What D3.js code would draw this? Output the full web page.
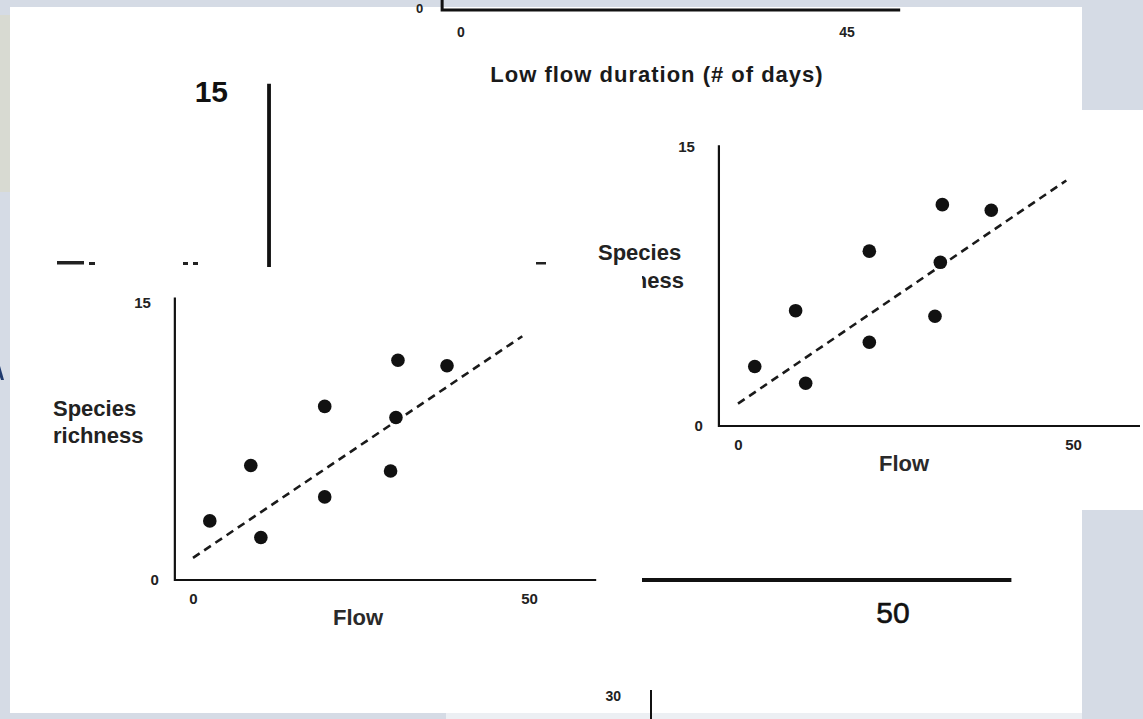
<!DOCTYPE html>
<html><head><meta charset="utf-8">
<script src="https://cdn.jsdelivr.net/npm/d3@7"></script>
<style>
html,body{margin:0;padding:0;background:#d5dbe5;overflow:hidden}
text{font-family:"Liberation Sans",Arial,Helvetica,sans-serif}
</style></head>
<body><svg id="c" width="1143" height="719"></svg>
<script>
// ---- data ----
const flow      = [2.5, 8.6, 10.1, 19.6, 19.6, 30.5, 30.2, 29.4, 37.8];
const richness  = [3.2, 6.2, 2.3, 9.4, 4.5, 11.9, 8.8, 5.9, 11.6];
const trendFlow = [0, 49];
const trendRichness = [1.2, 13.2];
const flowTicks = [0, 50];
const richnessTicks = [0, 15];
const durationTicks = [0, 45];
const durationYTicks = [0];
const bigRichnessTicks = [15];
const bigFlowTicks = [50];
const bottomTicks = [30];
const yLabelLines = ["Species", "richness"];
const xLabel = "Flow";
const durationTitle = "Low flow duration (# of days)";

const svg = d3.select("#c");
const BG = "#d5dbe5", INK = "#111";

// ---- backdrop ----
svg.append("rect").attr("width",1143).attr("height",719).attr("fill",BG);
svg.append("rect").attr("x",0).attr("y",15).attr("width",10).attr("height",177).attr("fill","#d8dad2");
svg.append("rect").attr("x",10).attr("y",7).attr("width",1072).attr("height",706).attr("fill","#fff");
svg.append("rect").attr("x",446).attr("y",713).attr("width",636).attr("height",6).attr("fill","#eceff3");
// navy sliver of a cut-off slide letter at the far left edge
svg.append("path").attr("d","M0,366 L4,380 L1,380 L0,377 Z").attr("fill","#1f3a6e");

// ---- top chart fragment (low flow duration) ----
const topX = d3.scaleLinear().domain([0,45]).range([461,847]);
const topY = d3.scaleLinear().domain([0,1]).range([10,-40]);
const topG = svg.append("g");
topG.append("path")
  .attr("d", d3.line()([[topX(-2.2), topY(0.2)],[topX(-2.2), topY(0)],[topX(51.2), topY(0)]]))
  .attr("fill","none").attr("stroke",INK).attr("stroke-width",3);
topG.selectAll("text.xt").data(durationTicks).join("text").attr("class","xt")
  .attr("x", d=>topX(d)).attr("y", topY(0)+27).attr("text-anchor","middle")
  .attr("font-size",14).attr("font-weight","bold").attr("fill","#222").text(d=>d);
topG.selectAll("text.yt").data(durationYTicks).join("text").attr("class","yt")
  .attr("x", topX(-2.2)-19).attr("y", topY(0)+3).attr("text-anchor","end")
  .attr("font-size",13).attr("font-weight","bold").attr("fill","#222").text(d=>d);
topG.append("text").attr("x",657).attr("y",82).attr("text-anchor","middle")
  .attr("font-size",22).attr("font-weight","bold").attr("letter-spacing","1px")
  .attr("fill","#1a1a1a").text(durationTitle);

// ---- large chart fragment underneath ----
const bigX = d3.scaleLinear().domain([0,50]).range([301,893]);
const bigY = d3.scaleLinear().domain([0,15]).range([580,92]);
const bigG = svg.append("g");
bigG.append("path")
  .attr("d", d3.line()([[bigX(-2.7), bigY(15.25)],[bigX(-2.7), bigY(0)],[bigX(60), bigY(0)]]))
  .attr("fill","none").attr("stroke",INK).attr("stroke-width",3.8);
bigG.selectAll("text.yt").data(bigRichnessTicks).join("text").attr("class","yt")
  .attr("x", bigX(-2.7)-41).attr("y", d=>bigY(d)+10).attr("text-anchor","end")
  .attr("font-size",30).attr("font-weight","bold").attr("fill","#111").text(d=>d);
bigG.selectAll("text.xt").data(bigFlowTicks).join("text").attr("class","xt")
  .attr("x", d=>bigX(d)).attr("y", bigY(0)+43).attr("text-anchor","middle")
  .attr("font-size",30).attr("fill","#111").attr("stroke","#111").attr("stroke-width",0.6).text(d=>d);

// ---- scatter panel ----
function scatter(o) {
  const g = svg.append("g");
  g.append("rect").attr("x",o.box[0]).attr("y",o.box[1]).attr("width",o.box[2]).attr("height",o.box[3]).attr("fill","#fff");
  const x = d3.scaleLinear().domain([0,50]).range(o.xr);
  const y = d3.scaleLinear().domain([0,15]).range(o.yr);
  const ax = x(o.x0);
  g.append("path")
    .attr("d", d3.line()([[ax, y(o.yTop)],[ax, y(0)],[x(o.xEnd), y(0)]]))
    .attr("fill","none").attr("stroke",INK).attr("stroke-width",2.2);
  // tick labels
  const xa = g.append("g").attr("transform",`translate(0,${y(0)})`)
    .call(d3.axisBottom(x).tickValues(flowTicks).tickSize(0).tickPadding(13).tickFormat(d3.format("d")));
  xa.select(".domain").remove();
  xa.selectAll("text").attr("font-size",15).attr("font-weight","bold").attr("fill","#222")
    .attr("font-family",'"Liberation Sans",Arial,sans-serif');
  const ya = g.append("g").attr("transform",`translate(${ax},0)`)
    .call(d3.axisLeft(y).tickValues(richnessTicks).tickSize(0).tickPadding(16).tickFormat(d3.format("d")));
  ya.select(".domain").remove();
  ya.selectAll("text").attr("font-size",15).attr("font-weight","bold").attr("fill","#222")
    .attr("dx", d => d === 15 ? -8 : 0)
    .attr("font-family",'"Liberation Sans",Arial,sans-serif');
  // trend line
  g.append("path")
    .attr("d", d3.line().x(d=>x(d[0])).y(d=>y(d[1]))(d3.zip(trendFlow, trendRichness)))
    .attr("fill","none").attr("stroke","#1a1a1a").attr("stroke-width",2.6).attr("stroke-dasharray","8,5.5");
  // points
  g.selectAll("circle").data(d3.zip(flow, richness)).join("circle")
    .attr("cx", d=>x(d[0])).attr("cy", d=>y(d[1])).attr("r",6.8).attr("fill",INK);
  // axis titles
  yLabelLines.forEach((t,i)=>{
    g.append("text").attr("x", o.yl[i][0]).attr("y", o.yl[i][1]).attr("text-anchor", o.yl[i][2])
      .attr("font-size",22).attr("font-weight","bold").attr("fill","#222").text(t);
  });
  g.append("text").attr("x", o.xl[0]).attr("y", o.xl[1]).attr("text-anchor","middle")
    .attr("font-size",22).attr("font-weight","bold").attr("fill","#2a2a2a").text(xLabel);
}

// right panel (underneath)
scatter({box:[580,110,563,400], xr:[738,1073], yr:[426,147], x0:-2.85, yTop:15.1, xEnd:60,
  yl:[[598,260,"start"],[684,288,"end"]], xl:[904,471]});

// fragments of a heading cut off by the left panel
const frag = svg.append("g").attr("fill","#222");
[[57,261,27,3.5],[89,262,6,3],[183,262,5,3],[193,262,5,3],[536,262,10,2.5]].forEach(r=>{
  frag.append("rect").attr("x",r[0]).attr("y",r[1]).attr("width",r[2]).attr("height",r[3]);
});

// left panel (on top)
scatter({box:[10,267,632,446], xr:[193,529], yr:[580,303], x0:-2.7, yTop:15.3, xEnd:60,
  yl:[[53,416,"start"],[53,443,"start"]], xl:[358,625]});

// ---- bottom chart fragment ----
const botY = d3.scaleLinear().domain([0,30]).range([900,696]);
const botG = svg.append("g");
botG.append("line").attr("x1",651).attr("x2",651).attr("y1",botY(30.9)).attr("y2",719)
  .attr("stroke",INK).attr("stroke-width",2);
botG.selectAll("text").data(bottomTicks).join("text")
  .attr("x",621).attr("y", d=>botY(d)+5).attr("text-anchor","end")
  .attr("font-size",14).attr("font-weight","bold").attr("fill","#222").text(d=>d);

// bottom-left strip
svg.append("rect").attr("x",0).attr("y",713).attr("width",446).attr("height",6).attr("fill",BG);
</script></body></html>
